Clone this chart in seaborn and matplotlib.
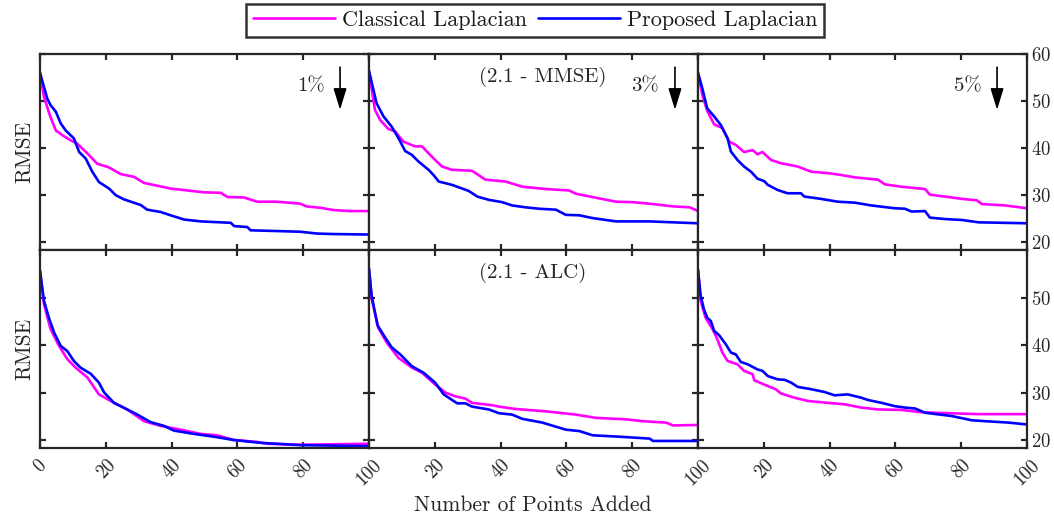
import matplotlib
matplotlib.use("Agg")
import matplotlib.pyplot as plt
import seaborn as sns
import pandas as pd

# ---------------- data ----------------
LABEL_CL = "Classical Laplacian"
LABEL_PL = "Proposed Laplacian"

# top-left (1%, MMSE)
TL_PL_X = [0, 2.2, 3.2, 4.8, 6.3, 7.8, 10.3, 11.9, 13.9, 15.9, 17.9, 21, 23, 25.5, 30.6, 32.6, 36.7, 39.7, 43.8, 48.8, 58, 59, 63, 64, 69, 79, 84.3, 89.4, 100]
TL_PL_Y = [56.0, 50.5, 49.1, 47.7, 45.2, 43.7, 42.0, 39.1, 37.7, 34.9, 32.7, 31.3, 29.9, 29.0, 27.8, 26.8, 26.3, 25.6, 24.7, 24.3, 24.0, 23.3, 23.1, 22.4, 22.3, 22.1, 21.7, 21.6, 21.5]
TL_CL_X = [0, 1.2, 3, 4.8, 6.8, 9.3, 11.3, 14.4, 17.4, 21, 24.5, 28.6, 31.6, 35.7, 39.7, 44.8, 49.8, 54.9, 57, 62, 66, 72, 79, 81, 85.3, 89.4, 94.4, 100]
TL_CL_Y = [56.0, 50.9, 46.9, 43.7, 42.7, 41.6, 40.9, 38.8, 36.6, 35.8, 34.4, 33.8, 32.5, 31.9, 31.3, 30.9, 30.5, 30.4, 29.5, 29.4, 28.5, 28.5, 28.1, 27.5, 27.2, 26.7, 26.5, 26.5]

# top-middle (3%, MMSE)
TM_PL_X = [0, 2.3, 4.4, 6.9, 9, 11, 13, 15, 18.1, 19.6, 21.2, 25.2, 30.3, 32.9, 36.4, 40.5, 43.5, 47.6, 51.7, 56.8, 59.8, 63.9, 68, 75.1, 85.3, 92.4, 100]
TM_PL_Y = [56.4, 49.5, 46.7, 44.5, 42.0, 39.3, 38.5, 37.1, 35.3, 34.2, 32.8, 32.1, 30.8, 29.6, 28.9, 28.4, 27.7, 27.3, 27.0, 26.8, 25.7, 25.6, 25.0, 24.3, 24.3, 24.1, 23.9]
TM_CL_X = [0, 1.8, 3.4, 5.9, 7.9, 10.5, 14, 16.1, 19.1, 22.2, 25.2, 31.3, 35.4, 41.5, 46.6, 53.7, 60.8, 62.9, 70, 75.1, 80.2, 86.3, 92.4, 97.5, 100]
TM_CL_Y = [56.4, 48.1, 45.9, 44.0, 43.5, 41.3, 40.3, 40.3, 38.1, 36.0, 35.3, 35.1, 33.2, 32.8, 31.7, 31.2, 30.9, 30.2, 29.2, 28.5, 28.4, 28.0, 27.5, 27.3, 26.5]

# top-right (5%, MMSE)
TR_PL_X = [0, 1.3, 2.8, 4.9, 6.9, 9, 10, 12, 14, 16.1, 18.1, 20.1, 21.2, 24.2, 27.2, 31.3, 32.3, 37.4, 42.5, 47.6, 52.7, 59.8, 62.9, 64.9, 69, 70.5, 75.1, 80.2, 85.3, 100]
TR_PL_Y = [56.0, 52.7, 48.4, 46.7, 44.9, 42.0, 39.2, 37.4, 36.0, 34.9, 33.4, 32.9, 32.1, 31.0, 30.3, 30.3, 29.6, 29.1, 28.5, 28.3, 27.7, 27.1, 27.0, 26.4, 26.5, 25.1, 24.8, 24.6, 24.1, 23.9]
TR_CL_X = [0, 1.3, 2.8, 4.9, 7.4, 9.5, 11.5, 14, 16.6, 18.1, 19.6, 22.2, 25.2, 30.3, 34.4, 39.5, 43.5, 47.6, 54.7, 56.8, 61.8, 69, 70.5, 76.1, 80.2, 84.7, 86.3, 93.4, 100]
TR_CL_Y = [56.0, 51.3, 47.9, 45.0, 44.2, 41.3, 40.6, 39.1, 39.5, 38.6, 39.1, 37.4, 36.7, 36.0, 34.9, 34.6, 34.2, 33.7, 33.2, 32.2, 31.7, 31.2, 30.0, 29.5, 29.1, 28.8, 28.0, 27.7, 27.1]

# bottom-left (1%, ALC)
BL_PL_X = [0, 1.2, 2.7, 4.3, 6.3, 8.3, 10.3, 12.3, 15.4, 17.9, 19.5, 22.5, 26.5, 29.6, 33.6, 37.7, 40.7, 46.8, 52.9, 58.9, 67, 79.2, 100]
BL_PL_Y = [55.9, 49.5, 45.9, 42.7, 39.9, 38.8, 36.7, 35.3, 34.0, 32.1, 30.0, 27.8, 26.4, 25.3, 23.7, 22.9, 21.9, 21.2, 20.6, 19.9, 19.3, 18.8, 18.6]
BL_CL_X = [0, 1.2, 3.2, 5.8, 8.3, 10.8, 14.4, 17.9, 22.5, 26.5, 31.6, 36.7, 42.8, 48.8, 53.9, 58.9, 66, 69.1, 79.2, 100]
BL_CL_Y = [55.9, 48.8, 43.5, 39.9, 37.1, 35.3, 33.2, 29.6, 27.8, 26.4, 23.9, 22.9, 22.1, 21.2, 20.9, 19.9, 19.5, 19.1, 18.9, 19.1]

# bottom-middle (3%, ALC)
BM_PL_X = [0, 0.8, 2.6, 4.9, 6.9, 9.5, 13, 16.6, 20.1, 22.7, 26.8, 29.3, 31.3, 36.4, 39.5, 43.5, 46.6, 52.7, 59.8, 63.9, 68, 76.1, 85.3, 86.3, 100]
BM_PL_Y = [56.3, 50.6, 44.3, 41.7, 39.6, 38.1, 35.6, 34.2, 32.1, 29.6, 27.7, 27.7, 27.0, 26.4, 25.6, 25.3, 24.4, 23.6, 22.1, 21.8, 20.9, 20.6, 20.2, 19.7, 19.7]
BM_CL_X = [0, 0.8, 2.8, 5.4, 8.9, 13, 16.1, 20.1, 23.2, 26.2, 29.3, 31.3, 37.4, 39.5, 44.5, 53.7, 62.9, 69, 78.1, 83.2, 90.3, 92.4, 100]
BM_CL_Y = [56.3, 49.9, 43.8, 40.6, 37.4, 35.3, 34.2, 31.7, 30.0, 29.2, 28.7, 27.8, 27.3, 27.0, 26.5, 26.0, 25.3, 24.6, 24.3, 23.9, 23.6, 23.0, 23.1]

# bottom-right (5%, ALC)
BR_PL_X = [0, 0.8, 1.8, 2.8, 3.9, 4.9, 6.4, 8.4, 10, 11.5, 13, 15.1, 18.1, 19.6, 21.2, 24.2, 26.3, 28.3, 30.3, 34.4, 38.5, 41.5, 45.5, 49.6, 51.7, 55.8, 59.8, 62.9, 66, 69, 77.1, 83.2, 87.3, 94.4, 100]
BR_PL_Y = [56.1, 50.6, 47.7, 45.9, 45.2, 43.1, 42.2, 40.3, 38.5, 38.1, 36.5, 36.0, 34.9, 34.6, 33.5, 32.8, 32.7, 32.1, 31.2, 30.7, 30.1, 29.4, 29.6, 28.9, 28.4, 27.8, 27.1, 26.8, 26.6, 25.7, 25.0, 24.1, 23.9, 23.6, 23.2]
BR_CL_X = [0, 0.8, 2.3, 4.4, 5.9, 7.4, 9, 12, 14, 16.6, 17.1, 20.1, 23.6, 25.2, 29.3, 33.4, 39.5, 44.5, 49.6, 54.7, 61.8, 68, 76.1, 85.3, 100]
BR_CL_Y = [56.1, 49.5, 45.9, 43.5, 41.3, 38.5, 36.7, 36.0, 34.6, 33.9, 32.6, 31.7, 30.7, 29.8, 28.9, 28.2, 27.8, 27.5, 26.8, 26.4, 26.3, 25.8, 25.6, 25.4, 25.4]

PCT_LABELS = ["1%", "3%", "5%"]
ROW_TITLES = ["(2.1 - MMSE)", "(2.1 - ALC)"]
X_TICKS = [0, 20, 40, 60, 80, 100]
Y_TICKS_TOP = [20, 30, 40, 50, 60]
Y_TICKS_BOT = [20, 30, 40, 50]

series = {
    (0, 0): (TL_CL_X, TL_CL_Y, TL_PL_X, TL_PL_Y),
    (0, 1): (TM_CL_X, TM_CL_Y, TM_PL_X, TM_PL_Y),
    (0, 2): (TR_CL_X, TR_CL_Y, TR_PL_X, TR_PL_Y),
    (1, 0): (BL_CL_X, BL_CL_Y, BL_PL_X, BL_PL_Y),
    (1, 1): (BM_CL_X, BM_CL_Y, BM_PL_X, BM_PL_Y),
    (1, 2): (BR_CL_X, BR_CL_Y, BR_PL_X, BR_PL_Y),
}
rows = []
for (r, c), (cx, cy, px, py) in series.items():
    for x, y in zip(cx, cy):
        rows.append(dict(row=r, col=c, method=LABEL_CL, x=x, rmse=y))
    for x, y in zip(px, py):
        rows.append(dict(row=r, col=c, method=LABEL_PL, x=x, rmse=y))
df = pd.DataFrame(rows)

# ---------------- style ----------------
sns.set_theme(style="white")
plt.rcParams["font.family"] = ["cmr10", "DejaVu Serif"]
plt.rcParams["mathtext.fontset"] = "cm"
plt.rcParams["axes.formatter.use_mathtext"] = True
plt.rcParams["axes.unicode_minus"] = False

SPINE = "#262626"
palette = {LABEL_CL: "#FF00FF", LABEL_PL: "#0000FF"}

W, H = 1054, 522
fig = plt.figure(figsize=(W / 100, H / 100), dpi=100)

col_left = [40, 369, 698]
col_w = 329
row_top = [54, 250]
row_h = [196, 198]

axes = {}
for r in range(2):
    for c in range(3):
        ax = fig.add_axes([col_left[c] / W, 1 - (row_top[r] + row_h[r]) / H, col_w / W, row_h[r] / H])
        axes[(r, c)] = ax
        sub = df[(df.row == r) & (df.col == c)]
        sns.lineplot(data=sub, x="x", y="rmse", hue="method",
                     hue_order=[LABEL_CL, LABEL_PL], palette=palette,
                     estimator=None, sort=False, linewidth=1.9, ax=ax, legend=False)
        ax.set_xlim(0, 100)
        ax.set_ylim(18.2, 60.0 if r == 0 else 60.3)
        ax.set_xlabel("")
        ax.set_ylabel("")
        ax.set_xticks(X_TICKS)
        ax.set_yticks(Y_TICKS_TOP if r == 0 else Y_TICKS_BOT)
        for s in ax.spines.values():
            s.set_color(SPINE)
            s.set_linewidth(1.6)
        ax.tick_params(axis="both", which="both", direction="in", length=4, width=1.6,
                       color=SPINE, top=True, bottom=True, left=True, right=True,
                       labelleft=False, labelright=(c == 2), labeltop=False,
                       labelbottom=(r == 1), labelsize=13.5, labelcolor="#262626")
        if r == 1:
            labs = [str(t) for t in X_TICKS]
            if c > 0:
                labs[0] = ""
            ax.set_xticklabels(labs, rotation=45, ha="center", va="top")
            ax.tick_params(axis="x", pad=6)
        if c == 2:
            ax.tick_params(axis="y", pad=3)
        if c == 0:
            ax.set_ylabel("RMSE", fontsize=15.5, color="#262626", labelpad=4)

# percentage labels and arrows (top row)
pct_pos = [(82.4, 91.2), (83.9, 93.0), (82.1, 90.9)]
for c, (tx, axx) in enumerate(pct_pos):
    ax = axes[(0, c)]
    ax.text(tx, 53.2, PCT_LABELS[c], ha="center", va="center", fontsize=15, color="#262626")
    ax.annotate("", xy=(axx, 48.1), xytext=(axx, 57.2),
                arrowprops=dict(arrowstyle="-|>,head_length=0.65,head_width=0.2",
                                color="black", lw=1.2, mutation_scale=20, shrinkA=0, shrinkB=0))

axes[(0, 1)].text(52.9, 55.1, ROW_TITLES[0], ha="center", va="center", fontsize=15, color="#262626")
axes[(1, 1)].text(49.8, 55.5, ROW_TITLES[1], ha="center", va="center", fontsize=15, color="#262626")

fig.text(533 / W, 1 - 505 / H, "Number of Points Added", ha="center", va="center",
         fontsize=15.5, color="#262626")

handles = [plt.Line2D([], [], color=palette[LABEL_CL], lw=1.9),
           plt.Line2D([], [], color=palette[LABEL_PL], lw=1.9)]
leg = fig.legend(handles, [LABEL_CL, LABEL_PL], loc="center",
                 bbox_to_anchor=(535 / W, 1 - 20.5 / H), ncol=2, fontsize=16,
                 frameon=True, fancybox=False, handlelength=3.7, handletextpad=0.3,
                 columnspacing=0.5, borderpad=0.3, borderaxespad=0)
leg.get_frame().set_edgecolor("black")
leg.get_frame().set_linewidth(1.8)
for t in leg.get_texts():
    t.set_color("#1a1a1a")

fig.savefig("out.png", dpi=100)
